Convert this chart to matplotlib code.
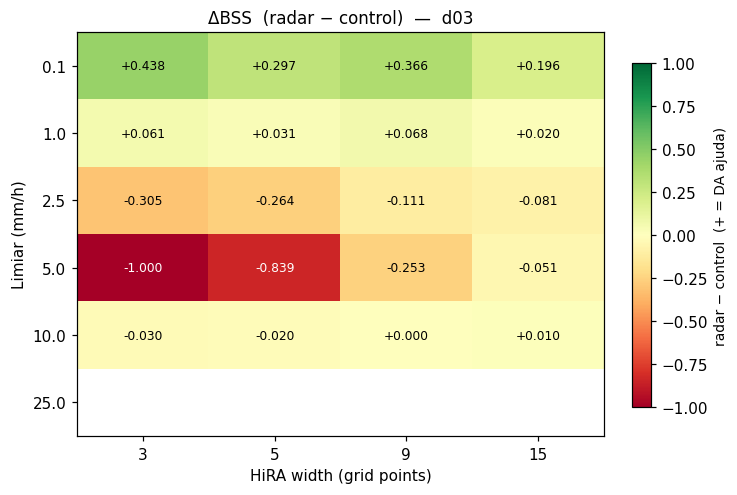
import numpy as np
import matplotlib
matplotlib.use("Agg")
import matplotlib.pyplot as plt

widths = ["3", "5", "9", "15"]
thresholds = ["0.1", "1.0", "2.5", "5.0", "10.0", "25.0"]
row_01 = [0.438, 0.297, 0.366, 0.196]
row_10 = [0.061, 0.031, 0.068, 0.020]
row_25 = [-0.305, -0.264, -0.111, -0.081]
row_50 = [-1.000, -0.839, -0.253, -0.051]
row_100 = [-0.030, -0.020, 0.000, 0.010]
row_250 = [np.nan, np.nan, np.nan, np.nan]

data = np.array([row_01, row_10, row_25, row_50, row_100, row_250])

DPI = 110
fig = plt.figure(figsize=(737/DPI, 496/DPI), dpi=DPI)
ax = fig.add_axes([77/737, 1-437/496, (604-77)/737, (437-33)/496])
im = ax.imshow(data, cmap="RdYlGn", vmin=-1, vmax=1, aspect="auto")
ax.set_xticks(range(len(widths)))
ax.set_xticklabels(widths)
ax.set_yticks(range(len(thresholds)))
ax.set_yticklabels(thresholds)
ax.set_xlabel("HiRA width (grid points)")
ax.set_ylabel("Limiar (mm/h)")
ax.set_title("ΔBSS  (radar − control)  —  d03", fontsize=11)

for i in range(data.shape[0]):
    for j in range(data.shape[1]):
        v = data[i, j]
        if np.isnan(v):
            continue
        txt = f"{v:+.3f}" if v >= 0 else f"{v:.3f}"
        ax.text(j, i, txt, ha="center", va="center", fontsize=8,
                color="white" if abs(v) > 0.6 else "black")

cax = fig.add_axes([632/737, 1-408/496, (651-632)/737, (408-64)/496])
cb = fig.colorbar(im, cax=cax)
cb.set_label("radar − control  (+ = DA ajuda)", fontsize=9)

fig.savefig("out.png", dpi=DPI)
